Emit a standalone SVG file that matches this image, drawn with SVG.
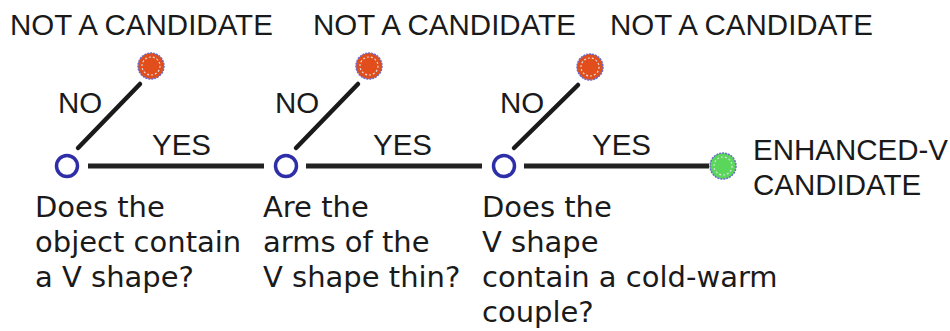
<svg xmlns="http://www.w3.org/2000/svg" width="950" height="331" viewBox="0 0 950 331">
<style>
.cap{font-family:"Liberation Sans",Arial,sans-serif;font-size:29.5px;fill:#1a1a1a}
.q{font-family:"DejaVu Sans",Verdana,sans-serif;font-size:29px;fill:#1a1a1a}
.dec{fill:#fff;stroke:#2e2ea8;stroke-width:3.5}
.no{stroke:#1a1a1a;stroke-width:4.5;stroke-linecap:round}
.yes{stroke:#222;stroke-width:5}
.ring{fill:none;stroke:#ddd;stroke-width:1.2;stroke-dasharray:2 2}
.rej{fill:#e24e1b;stroke:#6a6ac8;stroke-width:1.5;stroke-dasharray:2 1}
.acc{fill:#5ad65a;stroke:#6a6ac8;stroke-width:1.5;stroke-dasharray:2 1}
</style>
<rect width="950" height="331" fill="#fff"/>
<g id="connectors">
<line class="no" x1="78" y1="148" x2="140" y2="84"/>
<line class="no" x1="296" y1="148" x2="358" y2="84"/>
<line class="no" x1="514" y1="148" x2="578" y2="85"/>
<line class="yes" x1="88" y1="166" x2="264" y2="166"/>
<line class="yes" x1="306" y1="166" x2="482" y2="166"/>
<line class="yes" x1="524" y1="166" x2="709" y2="166"/>
<text class="cap" x="58" y="113">NO</text>
<text class="cap" x="275" y="113">NO</text>
<text class="cap" x="500" y="113">NO</text>
<text class="cap" x="152" y="155">YES</text>
<text class="cap" x="373" y="155">YES</text>
<text class="cap" x="592" y="155">YES</text>
</g>
<g id="q1">
<circle class="dec" cx="67" cy="166" r="10.5"/>
<text class="q" x="35" y="217">Does the</text>
<text class="q" x="35" y="252">object contain</text>
<text class="q" x="35" y="287">a V shape?</text>
</g>
<g id="q2">
<circle class="dec" cx="286" cy="166" r="10.5"/>
<text class="q" x="263" y="217">Are the</text>
<text class="q" x="263" y="252">arms of the</text>
<text class="q" x="263" y="287">V shape thin?</text>
</g>
<g id="q3">
<circle class="dec" cx="504" cy="166" r="10.5"/>
<text class="q" x="482" y="217">Does the</text>
<text class="q" x="482" y="252">V shape</text>
<text class="q" x="482" y="287">contain a cold-warm</text>
<text class="q" x="482" y="322">couple?</text>
</g>
<g id="r1">
<circle class="rej" cx="151" cy="66" r="13"/>
<circle class="ring" cx="151" cy="66" r="9"/>
<text class="cap" x="10" y="35">NOT A CANDIDATE</text>
</g>
<g id="r2">
<circle class="rej" cx="369" cy="66" r="13"/>
<circle class="ring" cx="369" cy="66" r="9"/>
<text class="cap" x="313" y="35">NOT A CANDIDATE</text>
</g>
<g id="r3">
<circle class="rej" cx="590" cy="67" r="13"/>
<circle class="ring" cx="590" cy="67" r="9"/>
<text class="cap" x="610" y="35">NOT A CANDIDATE</text>
</g>
<g id="accept">
<circle class="acc" cx="723" cy="166" r="13"/>
<circle class="ring" cx="723" cy="166" r="9"/>
<text class="cap" x="753" y="160">ENHANCED-V</text>
<text class="cap" x="753" y="195">CANDIDATE</text>
</g>
</svg>
